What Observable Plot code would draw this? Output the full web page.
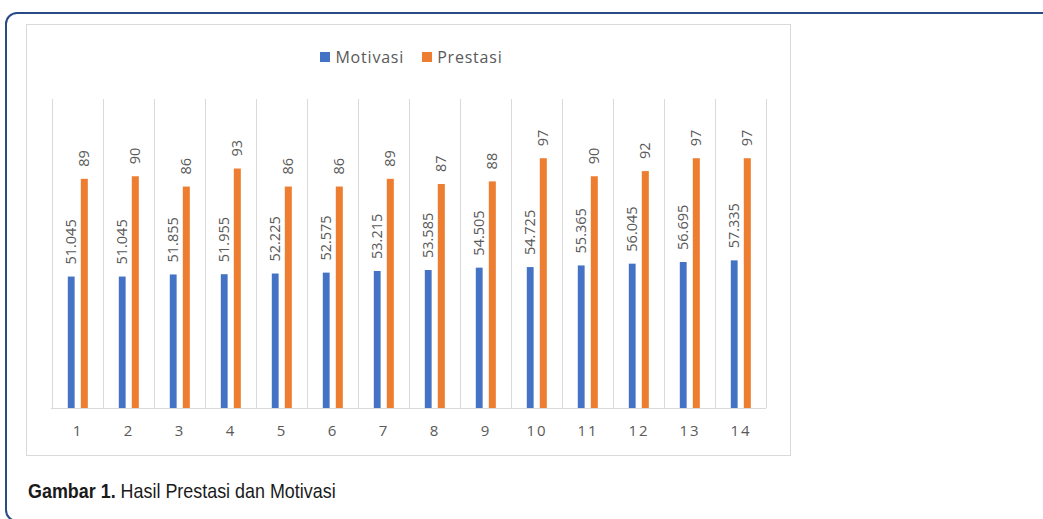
<!DOCTYPE html>
<html>
<head>
<meta charset="utf-8">
<script src="https://cdn.jsdelivr.net/npm/d3@7"></script>
<script src="https://cdn.jsdelivr.net/npm/@observablehq/plot@0.6"></script>
<style>
  html, body { margin: 0; padding: 0; background: #fff; }
  body { width: 1043px; height: 519px; position: relative; overflow: hidden; }
  #frame { position: absolute; left: 5px; top: 12px; width: 1100px; height: 510px; box-sizing: border-box;
           border: 2px solid #284a87; border-radius: 12px; }
  #box { position: absolute; left: 26px; top: 24px; width: 763px; height: 430px; border: 1px solid #d9d9d9; }
  #legend { position: absolute; left: 0; top: 15px; width: 763px; }
  .lg-swatches-wrap { justify-content: center; margin: 0 !important; padding-left: 24px; }
  .lg-swatch { margin-right: 18px !important; letter-spacing: 0.8px; }
  .lg-swatch > svg { margin-right: 5px !important; }
  #chart { position: absolute; left: 0; top: 0; }
  #chart g[aria-label="x-axis tick label"] text { letter-spacing: 2px; }
  #caption { position: absolute; left: 28px; top: 480px; font-family: "Liberation Sans", Arial, sans-serif;
             font-size: 21px; line-height: 21px; color: #1a1a1a; white-space: nowrap;
             transform: scaleX(0.853); transform-origin: 0 0; }
  #caption b { font-weight: bold; }
</style>
</head>
<body>
<div id="frame"></div>
<div id="box">
  <div id="chart"></div>
  <div id="legend"></div>
</div>
<div id="caption"><b>Gambar 1.</b> Hasil Prestasi dan Motivasi</div>
<script>
const categories = ["1","2","3","4","5","6","7","8","9","10","11","12","13","14"];
const motivasi = [51.045, 51.045, 51.855, 51.955, 52.225, 52.575, 53.215, 53.585, 54.505, 54.725, 55.365, 56.045, 56.695, 57.335];
const prestasi = [89, 90, 86, 93, 86, 86, 89, 87, 88, 97, 90, 92, 97, 97];
const seriesNames = ["Motivasi", "Prestasi"];
const seriesColors = ["#4472c4", "#ed7d31"];

const W = 763, H = 430, ML = 24, MR = 24, MT = 74, MB = 47;
const bw = (W - ML - MR) / categories.length;

const dataM = categories.map((c, i) => ({cat: c, series: "Motivasi", value: motivasi[i]}));
const dataP = categories.map((c, i) => ({cat: c, series: "Prestasi", value: prestasi[i]}));

const labelStyle = {fill: "#595959", fontSize: 14.5, rotate: -90, textAnchor: "start", lineAnchor: "middle"};

const chart = Plot.plot({
  width: W, height: H,
  marginLeft: ML, marginRight: MR, marginTop: MT, marginBottom: MB,
  style: {fontFamily: "'Open Sans', sans-serif", background: "transparent", overflow: "visible"},
  x: {type: "band", domain: categories, padding: 0, label: null},
  y: {domain: [0, 120], axis: null},
  color: {domain: seriesNames, range: seriesColors},
  marks: [
    Plot.ruleX(categories, {x: d => d, dx: -bw / 2, stroke: "#d9d9d9", strokeWidth: 1}),
    Plot.ruleX(categories.slice(-1), {x: d => d, dx: bw / 2, stroke: "#d9d9d9", strokeWidth: 1}),
    Plot.ruleY([0], {stroke: "#d9d9d9", strokeWidth: 1}),
    Plot.barY(dataM, {x: "cat", y: "value", fill: "series", insetLeft: 15.8, insetRight: bw - 22.7}),
    Plot.barY(dataP, {x: "cat", y: "value", fill: "series", insetLeft: 28.8, insetRight: bw - 35.9}),
    Plot.text(dataM, {x: "cat", y: "value", text: d => d3.format(".3f")(d.value), dx: 19.25 - bw / 2, dy: -12.5, ...labelStyle}),
    Plot.text(dataP, {x: "cat", y: "value", text: d => String(d.value), dx: 32.35 - bw / 2, dy: -12.5, ...labelStyle}),
    Plot.axisX({tickSize: 0, tickPadding: 17, fontSize: 15, fill: "#595959", label: null})
  ]
});
document.getElementById("chart").appendChild(chart);

const legend = Plot.legend({
  color: {domain: seriesNames, range: seriesColors},
  className: "lg",
  swatchSize: 10,
  style: {fontFamily: "'Open Sans', sans-serif", fontSize: "16px", color: "#595959"}
});
document.getElementById("legend").appendChild(legend);
</script>
</body>
</html>
